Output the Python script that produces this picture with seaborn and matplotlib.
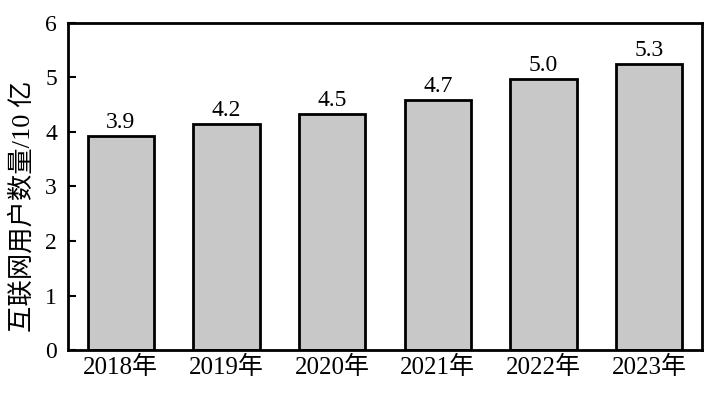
import matplotlib
matplotlib.use("Agg")
import matplotlib.pyplot as plt
import seaborn as sns
import pandas as pd

years = ["2018年", "2019年", "2020年", "2021年", "2022年", "2023年"]
users = [3.93, 4.15, 4.33, 4.59, 4.97, 5.24]
labels = ["3.9", "4.2", "4.5", "4.7", "5.0", "5.3"]

sns.set_theme(style="white")
plt.rcParams['font.family'] = ['Liberation Serif', 'Noto Sans CJK SC']
plt.rcParams['axes.unicode_minus'] = False

df = pd.DataFrame({"year": years, "users": users})

fig = plt.figure(figsize=(7.13, 3.93), dpi=100)
ax = fig.add_axes([68/713, 1 - 350/393, (702-68)/713, (350-23)/393])
sns.barplot(data=df, x="year", y="users", color="#c8c8c8", saturation=1,
            edgecolor="black", linewidth=2, width=0.625, ax=ax)
for i, (v, t) in enumerate(zip(users, labels)):
    ax.text(i, v + 0.06, t, ha="center", va="bottom", fontsize=17, color="black")

ax.set_ylim(0, 6)
ax.set_xlim(-0.5, 5.5)
ax.set_yticks(range(0, 7))
ax.set_xlabel("")
ax.set_ylabel("互联网用户数量/10 亿", fontsize=19, color="black")
ax.yaxis.set_label_coords(-0.053, 0.44)
ax.tick_params(axis="y", direction="in", length=6, width=1.5, labelsize=17,
               left=True, colors="black", pad=8)
ax.tick_params(axis="x", length=0, labelsize=18, colors="black", pad=4)
for s in ax.spines.values():
    s.set_visible(True)
    s.set_color("black")
    s.set_linewidth(2)

fig.savefig("out.png", dpi=100)
